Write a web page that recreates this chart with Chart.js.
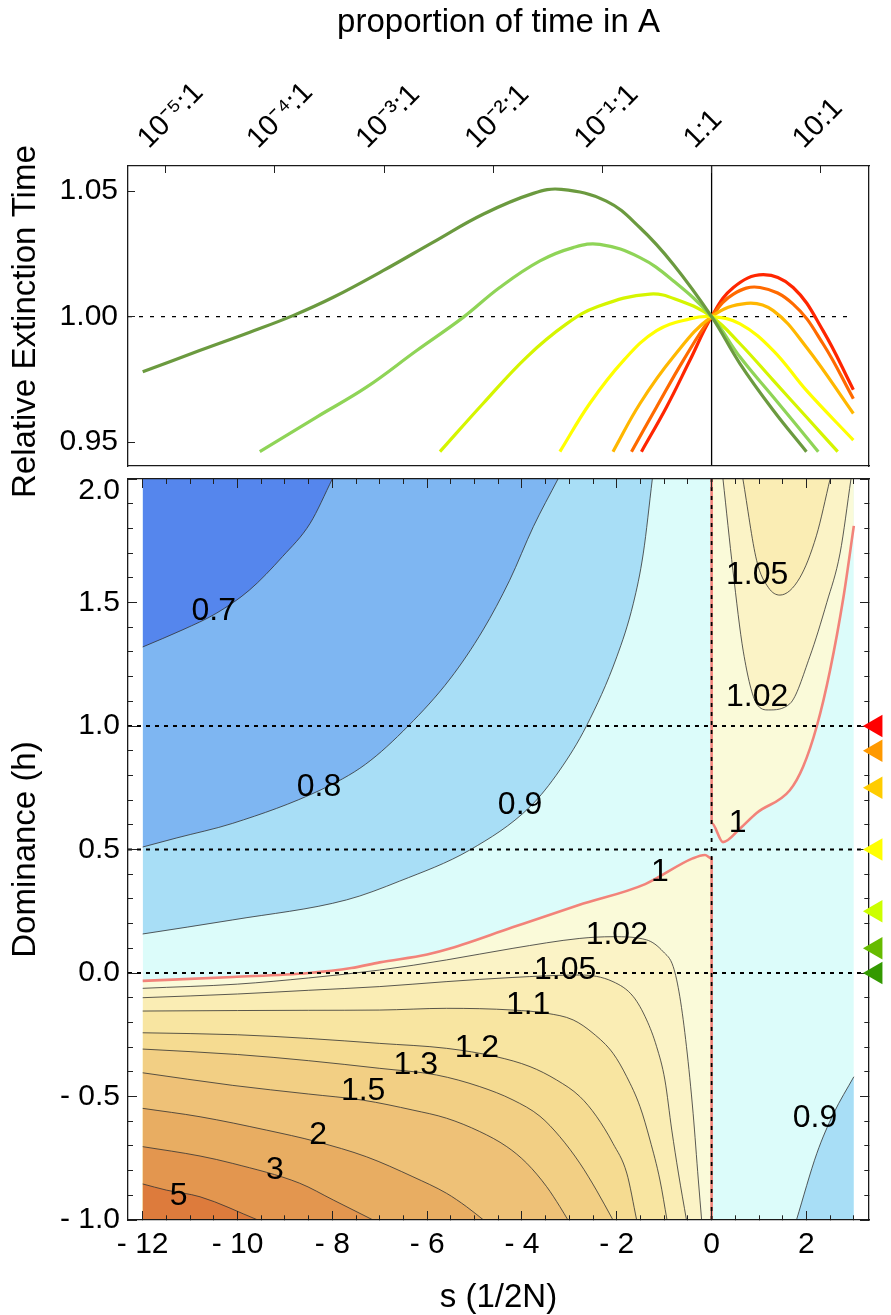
<!DOCTYPE html>
<html>
<head>
<meta charset="utf-8">
<title>Relative extinction time</title>
<script src="https://cdn.jsdelivr.net/npm/chart.js@4/dist/chart.umd.min.js"></script>
<style>
  body { margin: 0; background: #fff; }
  #page { position: relative; width: 891px; height: 1315px; overflow: hidden; }
  canvas { position: absolute; }
</style>
</head>
<body>
<div id="page">
  <canvas id="ratioPanel" width="891" height="498" style="left:0;top:0"></canvas>
  <canvas id="contourPanel" width="891" height="875" style="left:0;top:440px"></canvas>
  <canvas id="markerPanel" width="891" height="875" style="left:0;top:440px"></canvas>
</div>
<script>
Chart.defaults.font.family = '"Liberation Sans", Arial, Helvetica, sans-serif'
Chart.defaults.color = '#000'

// shared s axis (units of 1/2N), frame edges of both panels
const S_MIN = -12.31
const S_MAX = 3.32

// ---------- top panel: relative extinction time, one curve per h ----------
const curveH = [0, 0.1, 0.25, 0.5, 0.75, 0.9, 1]
const timeH0 = [[-12.0, 0.978], [-10.8, 0.9865], [-9.74, 0.9938], [-8.83, 1.0004], [-7.98, 1.0077], [-6.93, 1.0183], [-5.87, 1.0297], [-4.82, 1.0408], [-3.76, 1.0491], [-3.17, 1.0507], [-2.22, 1.046], [-1.51, 1.0354], [-0.81, 1.0209], [0, 1.0], [0.6, 0.9812], [1.3, 0.9627], [2.0, 0.9462]]
const timeH01 = [[-9.53, 0.9462], [-8.33, 0.960], [-7.28, 0.9719], [-6.22, 0.9865], [-5.24, 0.9997], [-4.47, 1.0116], [-3.62, 1.0222], [-2.92, 1.0275], [-2.36, 1.0288], [-1.51, 1.0235], [-0.81, 1.0143], [0, 1.0], [0.6, 0.9839], [1.3, 0.968], [2.25, 0.9462]]
const timeH025 = [[-5.73, 0.9462], [-4.82, 0.9654], [-3.9, 0.9839], [-3.06, 0.9971], [-2.4, 1.004], [-1.3, 1.009], [-0.67, 1.0063], [0, 1.0], [0.6, 0.9892], [1.3, 0.9746], [2.0, 0.96], [2.66, 0.9462]]
const timeH05 = [[-3.2, 0.9462], [-2.57, 0.9654], [-1.86, 0.9825], [-1.16, 0.9944], [-0.46, 0.9991], [0, 1.0], [0.6, 0.9971], [1.3, 0.9865], [2.0, 0.9706], [2.99, 0.9508]]
const timeH075 = [[-2.08, 0.9462], [-1.51, 0.9654], [-0.81, 0.9839], [0, 1.0], [0.74, 1.0053], [1.3, 1.0024], [2.0, 0.9878], [2.99, 0.9614]]
const timeH09 = [[-1.69, 0.9462], [-1.16, 0.964], [-0.6, 0.9825], [0, 1.0], [0.46, 1.009], [1.02, 1.0116], [1.72, 1.005], [2.35, 0.9892], [2.99, 0.9673]]
const timeH1 = [[-1.48, 0.9462], [-0.95, 0.964], [-0.46, 0.9825], [0, 1.0], [0.46, 1.0116], [1.09, 1.0167], [1.72, 1.0116], [2.35, 0.9944], [2.99, 0.9709]]
const timeCurves = [timeH0, timeH01, timeH025, timeH05, timeH075, timeH09, timeH1]
const curveColors = ['#6b9a3f', '#8fd457', '#d5f500', '#ffff00', '#ffb700', '#ff6a00', '#ff2600']

const TIME_MIN = 0.9405
const TIME_MAX = 1.06
const timeTicks = [0.95, 1.0, 1.05]
const ratioTicks = [1e-5, 1e-4, 1e-3, 1e-2, 1e-1, 1, 10]
const ratioLabels = ['10⁻⁵:1', '10⁻⁴:1', '10⁻³:1', '10⁻²:1', '10⁻¹:1', '1:1', '10:1']

// ---------- bottom panel: contour levels of relative extinction time ----------
// each level is a list of [s, h] points
const level07 = [[-12, 1.32], [-11.15, 1.39], [-10.45, 1.456], [-9.75, 1.55], [-9.05, 1.686], [-8.47, 1.82], [-8.0, 2.0]]
const level08 = [[-12, 0.51], [-11.28, 0.547], [-10.1, 0.606], [-8.26, 0.74], [-7.3, 0.845], [-6.4, 1.0], [-5.52, 1.19], [-4.82, 1.389], [-4.26, 1.59], [-3.76, 1.807], [-3.24, 2.0]]
const level09 = [[-12, 0.158], [-10.1, 0.215], [-7.7, 0.296], [-6.58, 0.372], [-5.1, 0.498], [-3.83, 0.673], [-3.2, 0.822], [-2.64, 1.0], [-2.0, 1.28], [-1.65, 1.497], [-1.44, 1.7], [-1.25, 2.0]]
const level10 = [[-12, -0.032], [-10.1, -0.016], [-8.5, 0.0], [-7.6, 0.02], [-7, 0.043], [-6, 0.075], [-5.5, 0.1], [-4.2, 0.185], [-2.8, 0.275], [-1.4, 0.36], [-0.4, 0.464], [-0.14, 0.478], [0, 0.464], [0, -1]]
const level102 = [[-12, -0.062], [-10, -0.045], [-8.5, -0.02], [-7, 0.012], [-5.59, 0.053], [-4.19, 0.1], [-2.78, 0.14], [-2.08, 0.147], [-1.37, 0.134], [-1.02, 0.086], [-0.81, 0.026], [-0.67, -0.096], [-0.53, -0.298], [-0.39, -0.568], [-0.28, -0.838], [-0.21, -1.0]]
const level105 = [[-12, -0.10], [-10, -0.085], [-8.5, -0.07], [-7, -0.055], [-5.6, -0.035], [-4.19, -0.018], [-2.78, -0.008], [-2.08, -0.035], [-1.65, -0.096], [-1.37, -0.19], [-1.16, -0.298], [-0.985, -0.433], [-0.84, -0.636], [-0.7, -0.81], [-0.53, -1.0]]
const level11 = [[-12, -0.154], [-10, -0.152], [-8.5, -0.151], [-7, -0.15], [-5.59, -0.143], [-4.19, -0.15], [-3.48, -0.163], [-2.92, -0.19], [-2.5, -0.244], [-2.08, -0.325], [-1.79, -0.42], [-1.51, -0.541], [-1.3, -0.676], [-1.09, -0.838], [-0.94, -1.0]]
const level12 = [[-12, -0.242], [-10, -0.25], [-8.5, -0.265], [-7, -0.285], [-5.59, -0.305], [-4.54, -0.339], [-3.83, -0.379], [-3.27, -0.433], [-2.78, -0.5], [-2.43, -0.58], [-2.08, -0.69], [-1.79, -0.81], [-1.58, -1.0]]
const level13 = [[-12, -0.308], [-10, -0.33], [-8.5, -0.355], [-7, -0.386], [-5.8, -0.413], [-4.89, -0.46], [-4.19, -0.514], [-3.62, -0.58], [-3.2, -0.663], [-2.78, -0.77], [-2.43, -0.879], [-2.08, -1.0]]
const level15 = [[-12, -0.404], [-10.1, -0.455], [-8.5, -0.49], [-7.35, -0.515], [-6.3, -0.555], [-5.59, -0.588], [-4.89, -0.642], [-4.32, -0.703], [-3.9, -0.77], [-3.48, -0.865], [-3.2, -0.946], [-3.03, -1.0]]
const level20 = [[-12, -0.548], [-10.79, -0.582], [-9.39, -0.636], [-8.33, -0.683], [-7.28, -0.744], [-6.3, -0.825], [-5.59, -0.892], [-5.17, -0.946], [-4.81, -1.0]]
const level30 = [[-12, -0.703], [-10.79, -0.741], [-10.1, -0.771], [-8.69, -0.851], [-7.98, -0.919], [-7.14, -1.0]]
const level50 = [[-12, -0.854], [-11.5, -0.879], [-10.79, -0.906], [-9.57, -1.0]]
// s > 0 side
const level10R = [[0, 2], [0, 0.607], [0.24, 0.53], [0.6, 0.585], [0.95, 0.648], [1.65, 0.74], [1.93, 0.835], [2.22, 1.0], [2.5, 1.227], [2.78, 1.52], [3.0, 1.81]]
const level102R = [[0.24, 2.0], [0.45, 1.63], [0.67, 1.3], [0.95, 1.09], [1.2, 1.065], [1.65, 1.09], [2.07, 1.28], [2.43, 1.5], [2.71, 1.7], [2.94, 2.0]]
const level105R = [[0.66, 2.0], [0.95, 1.67], [1.2, 1.56], [1.44, 1.53], [1.86, 1.6], [2.21, 1.77], [2.5, 2.0]]
const level09R = [[1.79, -1.0], [2.22, -0.73], [2.57, -0.57], [3.0, -0.42]]

const sDomain = [-12, 3]
const hDomain = [-1, 2]
const dashedH = [1, 0.5, 0]

const labelText = ['0.7', '0.8', '0.9', '1', '1.02', '1.05', '1.1', '1.2', '1.3', '1.5', '2', '3', '5', '1.05', '1.02', '1', '0.9']
const labelS = [-10.5, -8.28, -4.04, -1.09, -2.0, -3.09, -3.87, -4.95, -6.24, -7.35, -8.3, -9.21, -11.24, 0.96, 0.96, 0.55, 2.18]
const labelH = [1.466, 0.753, 0.68, 0.41, 0.154, 0.012, -0.13, -0.304, -0.372, -0.48, -0.656, -0.797, -0.904, 1.61, 1.117, 0.607, -0.587]

// right-hand markers: dominance values of the top-panel curves
const markerH = [1, 0.9, 0.75, 0.5, 0.25, 0.1, 0]
const markerColors = ['#ff0000', '#ff9900', '#ffcc00', '#ffff00', '#ccff00', '#66bb00', '#339900']

// ---------- helpers ----------
const pts = arr => arr.map(([x, y]) => ({ x, y }))
const frame = { display: true, color: '#1a1a1a', width: 1.3, z: 1 }
const gray = { color: 'rgba(50,50,50,0.8)', width: 1 }
const salmon = { color: '#f2837a', width: 2.6 }
const fmtSigned = (v, d) => (v < 0 ? '- ' + Math.abs(v).toFixed(d) : v.toFixed(d))

function region(level, to, color, line) {
    return {
        data: pts(level),
        fill: to,
        backgroundColor: color,
        borderColor: line ? line.color : 'transparent',
        borderWidth: line ? line.width : 0,
        cubicInterpolationMode: 'monotone',
        pointRadius: 0
    }
}

function straight(points, dash, width) {
    return {
        data: points,
        borderColor: '#000',
        borderWidth: width,
        borderDash: dash,
        pointRadius: 0,
        fill: false
    }
}

// ---------- top chart ----------
const topSets = timeCurves.map((c, i) => ({
    data: pts(c),
    borderColor: curveColors[i],
    borderWidth: 3.2,
    tension: 0.4,
    pointRadius: 0,
    fill: false
}))
topSets.push(straight([{ x: S_MIN, y: 1 }, { x: 3, y: 1 }], [4, 7], 1.3))
topSets.push(straight([{ x: 0, y: TIME_MIN }, { x: 0, y: TIME_MAX }], [], 1.3))

new Chart(document.getElementById('ratioPanel'), {
    type: 'line',
    data: { datasets: topSets },
    options: {
        responsive: false,
        animation: false,
        events: [],
        layout: { padding: 0 },
        plugins: {
            legend: { display: false },
            tooltip: { enabled: false },
            title: {
                display: true,
                position: 'left',
                align: 'start',
                text: 'Relative Extinction Time',
                font: { size: 33, weight: 'normal', lineHeight: 1 },
                padding: { top: 9, bottom: 0 },
                color: '#000'
            }
        },
        scales: {
            x: {
                type: 'linear', position: 'bottom', min: S_MIN, max: S_MAX,
                ticks: { display: false },
                grid: { drawOnChartArea: false, drawTicks: false },
                border: frame,
                afterFit: s => { s.height = 32; s.paddingLeft = 0; s.paddingRight = 0 }
            },
            ratio: {
                type: 'logarithmic', position: 'top', bounds: 'data',
                min: Math.exp(S_MIN), max: Math.exp(S_MAX),
                afterBuildTicks: s => { s.ticks = ratioTicks.map(v => ({ value: v })) },
                ticks: {
                    autoSkip: false, minRotation: 45, maxRotation: 45,
                    labelOffset: 2, padding: 17,
                    font: { size: 29 }, color: '#000',
                    callback: (v, i) => ratioLabels[i]
                },
                grid: { drawOnChartArea: false, tickLength: -7, tickColor: '#222', z: 1 },
                border: frame,
                title: {
                    display: true, text: 'proportion of time in A',
                    font: { size: 33, lineHeight: 1 }, padding: { top: 6, bottom: 0 }, color: '#000'
                },
                afterFit: s => { s.height = 166; s.paddingLeft = 0; s.paddingRight = 0 }
            },
            y: {
                type: 'linear', position: 'left', min: TIME_MIN, max: TIME_MAX,
                afterBuildTicks: s => { s.ticks = timeTicks.map(v => ({ value: v })) },
                ticks: { font: { size: 30 }, padding: 17, color: '#000', callback: v => v.toFixed(2) },
                grid: { drawOnChartArea: false, tickLength: -7, tickColor: '#222', z: 1 },
                border: frame,
                afterFit: s => { s.width = 86; s.paddingTop = 0; s.paddingBottom = 0 }
            },
            y2: {
                type: 'linear', position: 'right', min: TIME_MIN, max: TIME_MAX,
                ticks: { display: false },
                grid: { drawOnChartArea: false, drawTicks: false },
                border: frame,
                afterFit: s => { s.width = 22 }
            }
        }
    }
})

// ---------- bottom chart ----------
const fills = {
    lt07: '#5586ed', c0708: '#7eb6f2', c0809: '#a8def6', c0910: '#dcfcfa',
    c1002: '#fafad9', c0205: '#fbf3c6', c0510: '#faedb4', c1012: '#f8e5a1',
    c1213: '#f5db91', c1315: '#f2cf84', c1520: '#eec177', c2030: '#e8ad62',
    c3050: '#e3964f', gt50: '#dd7b3c'
}

// painter's order: first entry is drawn first (bottom)
const painted = [
    region([[sDomain[0], hDomain[1]], [sDomain[1], hDomain[1]]], 'start', fills.c0910, null),
    region(level09, 'end', fills.c0809, gray),
    region(level08, 'end', fills.c0708, gray),
    region(level07, 'end', fills.lt07, gray),
    region(level10, 'start', fills.c1002, salmon),
    region(level102, 'start', fills.c0205, gray),
    region(level105, 'start', fills.c0510, gray),
    region(level11, 'start', fills.c1012, gray),
    region(level12, 'start', fills.c1213, gray),
    region(level13, 'start', fills.c1315, gray),
    region(level15, 'start', fills.c1520, gray),
    region(level20, 'start', fills.c2030, gray),
    region(level30, 'start', fills.c3050, gray),
    region(level50, 'start', fills.gt50, gray),
    region(level10R, 'end', fills.c1002, salmon),
    region(level102R, 'end', fills.c0205, gray),
    region(level105R, 'end', fills.c0510, gray),
    region(level09R, 'start', fills.c0809, gray)
]
dashedH.forEach(h => painted.push(straight([{ x: S_MIN, y: h }, { x: S_MAX, y: h }], [4, 5], 1.8)))
painted.push(straight([{ x: 0, y: hDomain[0] }, { x: 0, y: hDomain[1] }], [4, 5], 1.8))
painted.forEach((d, i) => { d.order = painted.length - i })

const contourLabels = {
    id: 'contourLabels',
    afterDatasetsDraw(chart) {
        const { ctx, scales: { x, y } } = chart
        ctx.save()
        ctx.font = '32px "Liberation Sans", Arial, sans-serif'
        ctx.fillStyle = '#000'
        ctx.textAlign = 'center'
        ctx.textBaseline = 'middle'
        labelText.forEach((t, i) => {
            ctx.fillText(t, x.getPixelForValue(labelS[i]), y.getPixelForValue(labelH[i]))
        })
        ctx.restore()
    }
}

const sTickValues = []
for (let k = -24; k <= 6; k++) sTickValues.push(k / 2)
const hTickValues = []
for (let k = -10; k <= 20; k++) hTickValues.push(k / 10)
const sMajor = v => Math.abs(v / 2 - Math.round(v / 2)) < 1e-9 && v <= 2
const hMajor = v => Math.abs(v * 2 - Math.round(v * 2)) < 1e-9

// minor ticks are shortened with a dash pattern; offset depends on the drawing direction
const tickGrid = (isMajor, offset) => ({
    drawOnChartArea: false,
    tickLength: -9,
    tickColor: '#222',
    tickWidth: 1,
    z: 1,
    tickBorderDash: c => (isMajor(c.tick.value) ? [] : [5, 20]),
    tickBorderDashOffset: offset
})

new Chart(document.getElementById('contourPanel'), {
    type: 'line',
    data: { datasets: painted },
    options: {
        responsive: false,
        animation: false,
        events: [],
        layout: { padding: 0 },
        plugins: { legend: { display: false }, tooltip: { enabled: false } },
        scales: {
            x: {
                type: 'linear', position: 'bottom', min: S_MIN, max: S_MAX,
                afterBuildTicks: s => { s.ticks = sTickValues.map(v => ({ value: v })) },
                ticks: {
                    autoSkip: false, minRotation: 0, maxRotation: 0, padding: 16,
                    font: { size: 30 }, color: '#000', z: 1,
                    callback: v => (sMajor(v) ? fmtSigned(v, 0) : '')
                },
                grid: tickGrid(sMajor, 0),
                border: frame,
                title: {
                    display: true, text: 's (1/2N)',
                    font: { size: 33, lineHeight: 1 }, padding: { top: 0, bottom: 1 }, color: '#000'
                },
                afterFit: s => { s.height = 95; s.paddingLeft = 0; s.paddingRight = 0 }
            },
            x2: {
                type: 'linear', position: 'top', min: S_MIN, max: S_MAX,
                afterBuildTicks: s => { s.ticks = sTickValues.map(v => ({ value: v })) },
                ticks: { display: false },
                grid: tickGrid(sMajor, 21),
                border: frame,
                afterFit: s => { s.height = 39; s.paddingLeft = 0; s.paddingRight = 0 }
            },
            y: {
                type: 'linear', position: 'left', min: hDomain[0], max: hDomain[1],
                afterBuildTicks: s => { s.ticks = hTickValues.map(v => ({ value: v })) },
                ticks: {
                    autoSkip: false, padding: 17, color: '#000', z: 1,
                    font: { size: 30, lineHeight: 0.75 },
                    callback: v => {
                        if (!hMajor(v)) return ''
                        const t = fmtSigned(Math.round(v * 10) / 10, 1)
                        return v === hDomain[1] ? ['', t] : t
                    }
                },
                grid: tickGrid(hMajor, 21),
                border: frame,
                title: {
                    display: true, text: 'Dominance (h)',
                    font: { size: 33, lineHeight: 1 }, padding: { top: 9, bottom: 0 }, color: '#000'
                },
                afterFit: s => { s.width = 128; s.paddingTop = 0; s.paddingBottom = 0 }
            },
            y2: {
                type: 'linear', position: 'right', min: hDomain[0], max: hDomain[1],
                afterBuildTicks: s => { s.ticks = hTickValues.map(v => ({ value: v })) },
                ticks: { display: false },
                grid: tickGrid(hMajor, 0),
                border: frame,
                afterFit: s => { s.width = 22; s.paddingTop = 0; s.paddingBottom = 0 }
            }
        }
    },
    plugins: [contourLabels]
})

// ---------- marker column to the right of the contour frame ----------
// transparent overlay whose chart area is just the strip right of the frame
new Chart(document.getElementById('markerPanel'), {
    type: 'line',
    data: {
        datasets: [{
            data: markerH.map(h => ({ x: 0.77, y: h })),
            showLine: false,
            clip: false,
            pointStyle: 'triangle',
            pointRotation: -90,
            pointRadius: 13,
            pointBackgroundColor: markerColors,
            pointBorderColor: markerColors,
            pointBorderWidth: 0
        }]
    },
    options: {
        responsive: false,
        animation: false,
        events: [],
        layout: { padding: { top: 39, bottom: 95, left: 869, right: 0 } },
        plugins: { legend: { display: false }, tooltip: { enabled: false } },
        scales: {
            x: { type: 'linear', display: false, min: 0, max: 1 },
            y: { type: 'linear', display: false, min: hDomain[0], max: hDomain[1] }
        }
    }
})
</script>
</body>
</html>
